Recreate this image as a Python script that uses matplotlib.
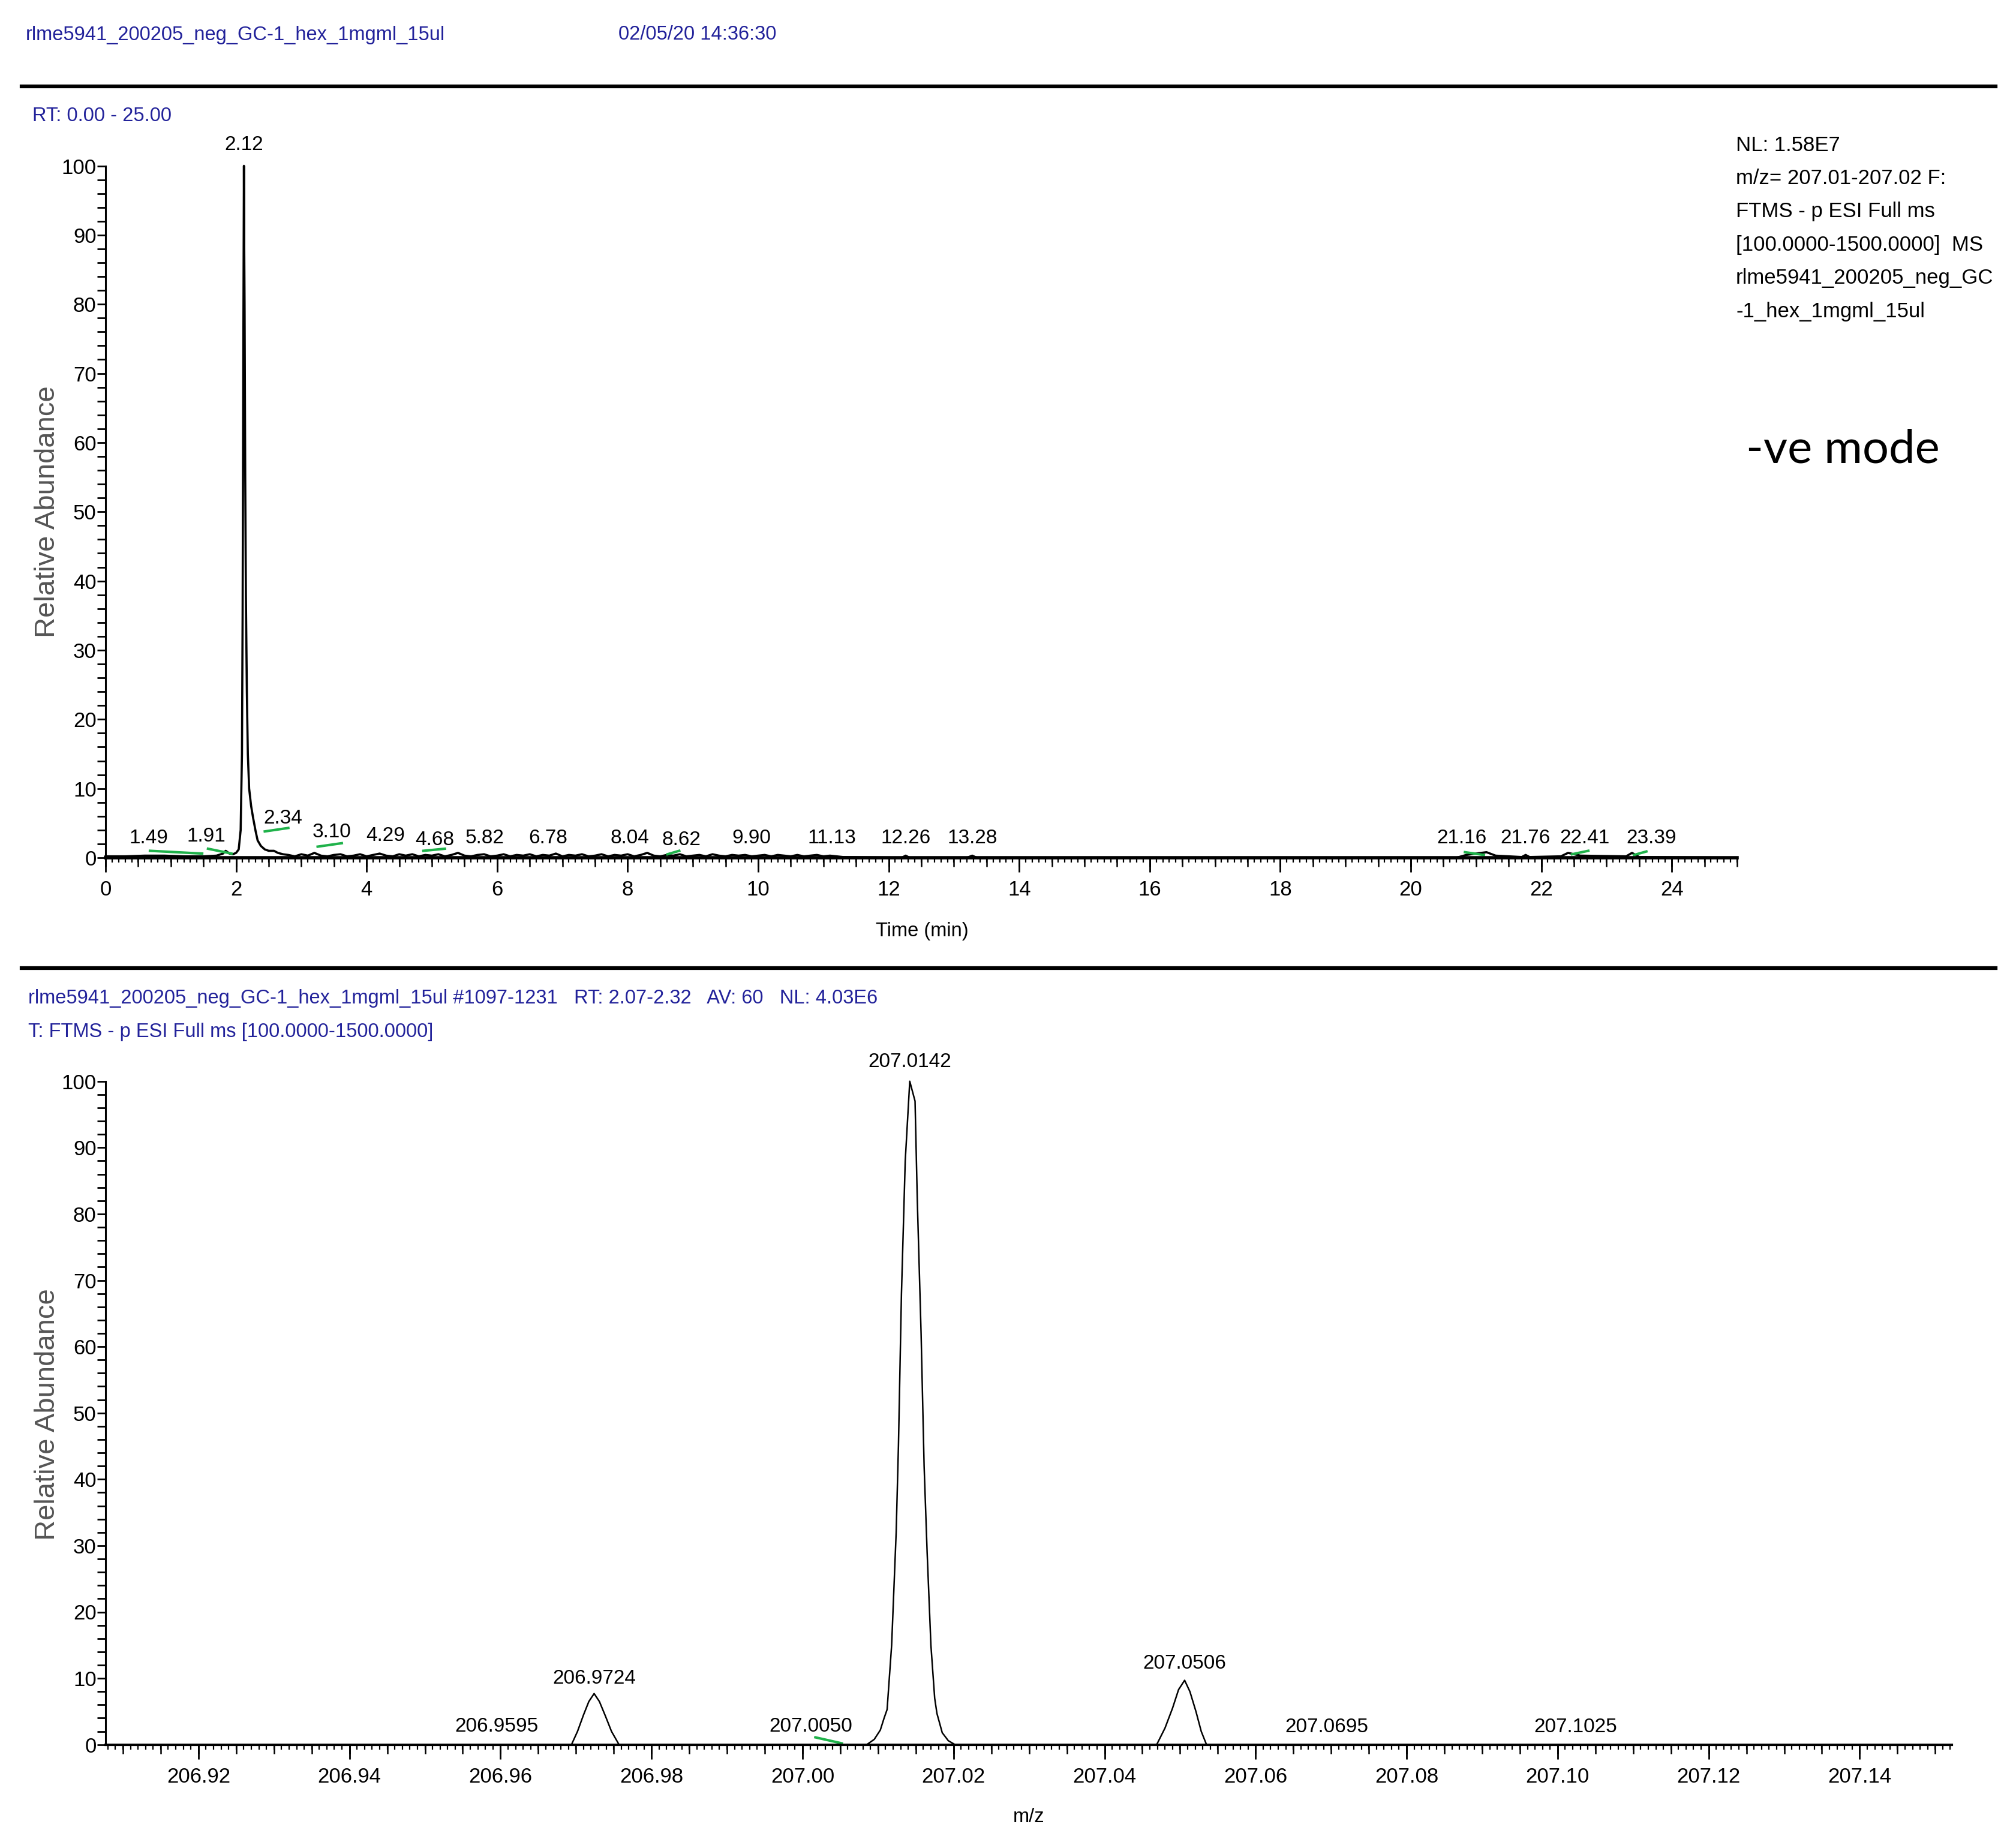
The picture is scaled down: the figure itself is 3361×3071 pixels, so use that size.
import numpy as np
import matplotlib.pyplot as plt
from matplotlib.ticker import MultipleLocator, FormatStrFormatter, NullFormatter
from matplotlib.lines import Line2D

# figure size in pixels (dpi 100)
W, H = 3361, 3071
SANS = ['Liberation Sans', 'DejaVu Sans']
NAVY = '#22229a'
GREEN = '#1fb24a'

# ---- chromatogram (top) ----
peak_rt = [0.00, 0.30, 0.60, 0.90, 1.20, 1.50, 1.70, 1.80, 1.84, 1.90, 1.95, 2.00,
           2.04, 2.07, 2.09, 2.10, 2.11, 2.12, 2.125, 2.13, 2.14, 2.15, 2.165, 2.18,
           2.20, 2.23, 2.26, 2.30, 2.33, 2.38, 2.44, 2.50, 2.58, 2.64, 2.72]
peak_ab = [0.2, 0.2, 0.3, 0.3, 0.2, 0.2, 0.3, 0.6, 1.0, 0.6, 0.5, 0.7,
           1.2, 4.0, 15.0, 35.0, 70.0, 100.0, 88.0, 80.0, 55.0, 38.0, 24.0, 15.0,
           10.0, 7.5, 5.8, 3.8, 2.5, 1.7, 1.2, 1.0, 1.0, 0.7, 0.5]
# baseline noise 2.8 - 11.2 min, one value every 0.1 min
noise_start, noise_step = 2.8, 0.1
noise_ab = [0.4, 0.2, 0.5, 0.3, 0.7, 0.3, 0.2, 0.4, 0.5, 0.2,
            0.3, 0.5, 0.2, 0.4, 0.6, 0.3, 0.2, 0.5, 0.3, 0.5,
            0.2, 0.4, 0.3, 0.5, 0.2, 0.4, 0.7, 0.3, 0.2, 0.4,
            0.5, 0.2, 0.3, 0.5, 0.2, 0.4, 0.3, 0.5, 0.2, 0.4,
            0.3, 0.6, 0.2, 0.4, 0.3, 0.5, 0.2, 0.3, 0.5, 0.2,
            0.4, 0.3, 0.5, 0.2, 0.4, 0.7, 0.3, 0.2, 0.4, 0.3,
            0.5, 0.2, 0.3, 0.4, 0.2, 0.5, 0.3, 0.2, 0.4, 0.3,
            0.4, 0.2, 0.3, 0.4, 0.2, 0.4, 0.3, 0.2, 0.4, 0.2,
            0.3, 0.4, 0.2, 0.3, 0.2]
tail_rt = [11.3, 12.2, 12.26, 12.32, 13.2, 13.28, 13.35, 20.7, 20.85, 21.0, 21.16,
           21.3, 21.7, 21.76, 21.82, 22.3, 22.41, 22.6, 23.3, 23.39, 23.5, 25.0]
tail_ab = [0.1, 0.0, 0.3, 0.0, 0.0, 0.3, 0.0, 0.0, 0.4, 0.6, 0.8,
           0.3, 0.1, 0.4, 0.1, 0.2, 0.7, 0.3, 0.2, 0.7, 0.1, 0.0]

rt_labels = ['1.49', '1.91', '2.12', '2.34', '3.10', '4.29', '4.68', '5.82', '6.78', '8.04',
             '8.62', '9.90', '11.13', '12.26', '13.28', '21.16', '21.76', '22.41', '23.39']
rt_label_x = [0.66, 1.54, 2.12, 2.72, 3.47, 4.29, 5.04, 5.81, 6.78, 8.03,
              8.82, 9.90, 11.13, 12.26, 13.28, 20.78, 21.76, 22.67, 23.69]
rt_label_y = [2.8, 3.1, 103.0, 5.7, 3.7, 3.2, 2.6, 2.8, 2.8, 2.8,
              2.6, 2.8, 2.8, 2.8, 2.8, 2.8, 2.8, 2.8, 2.8]
# integration marks: start, end, height at start, height at end
rt_mark_t0 = [0.68, 1.57, 2.44, 3.25, 4.87, 8.61, 20.83, 22.47, 23.42]
rt_mark_t1 = [1.48, 1.93, 2.80, 3.62, 5.20, 8.79, 21.12, 22.72, 23.61]
rt_mark_y0 = [1.0, 1.3, 3.8, 1.6, 1.0, 0.5, 0.8, 0.5, 0.4]
rt_mark_y1 = [0.6, 0.6, 4.3, 2.1, 1.3, 1.0, 0.4, 1.0, 0.9]

# ---- mass spectrum (bottom) ----
mz = [206.9077, 206.9694, 206.9702, 206.9710, 206.9717, 206.9724, 206.9731, 206.9739,
      206.9747, 206.9757, 207.0085, 207.0095, 207.0103, 207.0108, 207.0112, 207.0118,
      207.0124, 207.0127, 207.0131, 207.0136, 207.0142, 207.0149, 207.0152, 207.0157,
      207.0161, 207.0165, 207.0170, 207.0175, 207.0178, 207.0185, 207.0193, 207.0202,
      207.0469, 207.0480, 207.0490, 207.0498, 207.0506, 207.0513, 207.0521, 207.0528,
      207.0535, 207.1522]
intensity = [0.0, 0.0, 2.0, 4.5, 6.5, 7.7, 6.5, 4.3,
             2.0, 0.0, 0.0, 0.8, 2.2, 4.0, 5.3, 15.0,
             32.0, 45.0, 68.0, 88.0, 100.0, 97.0, 82.0, 62.0,
             42.0, 29.0, 15.0, 7.0, 4.7, 1.8, 0.6, 0.0,
             0.0, 2.5, 5.5, 8.3, 9.7, 8.0, 5.0, 2.0,
             0.0, 0.0]
mz_labels = ['206.9595', '206.9724', '207.0050', '207.0142', '207.0506', '207.0695', '207.1025']
mz_label_x = [206.9595, 206.9724, 207.0011, 207.0142, 207.0506, 207.0694, 207.1024]
mz_label_y = [2.7, 10.0, 2.7, 102.9, 12.2, 2.6, 2.6]
mz_mark_x = [207.0017, 207.0052]
mz_mark_y = [1.1, 0.2]

header_name = 'rlme5941_200205_neg_GC-1_hex_1mgml_15ul'
header_date = '02/05/20 14:36:30'
nl_block = ['NL: 1.58E7', 'm/z= 207.01-207.02 F:', 'FTMS - p ESI Full ms',
            '[100.0000-1500.0000]  MS', 'rlme5941_200205_neg_GC', '-1_hex_1mgml_15ul']
spec_header = ('rlme5941_200205_neg_GC-1_hex_1mgml_15ul #1097-1231   RT: 2.07-2.32   '
               'AV: 60   NL: 4.03E6')
spec_filter = 'T: FTMS - p ESI Full ms [100.0000-1500.0000]'

plt.rcParams['font.family'] = SANS
FS_HEAD = 23.5
FS_TICK = 25
FS_PEAK = 24
FS_NL = 25


def fx(px):
    return px / W


def fy(py):
    return 1 - py / H


def rect(left, top, right, bottom):
    return [fx(left), fy(bottom), (right - left) / W, (bottom - top) / H]


def style_axes(ax, major, medium, minor, fmt, xspine):
    for s in ['top', 'right']:
        ax.spines[s].set_visible(False)
    ax.spines['left'].set_linewidth(2.2)
    ax.spines['bottom'].set_linewidth(xspine)
    ax.set_ylim(0, 100)
    ax.yaxis.set_major_locator(MultipleLocator(10))
    ax.yaxis.set_minor_locator(MultipleLocator(2))
    ax.xaxis.set_major_locator(MultipleLocator(major))
    ax.xaxis.set_minor_locator(MultipleLocator(minor))
    ax.xaxis.set_major_formatter(FormatStrFormatter(fmt))
    ax.tick_params(axis='y', which='both', length=10, width=2.0, pad=1, labelsize=FS_TICK)
    ax.tick_params(axis='x', which='major', length=17, width=2.0, pad=10, labelsize=FS_TICK)
    ax.tick_params(axis='x', which='minor', length=6, width=1.6)
    sec = ax.secondary_xaxis('bottom')
    sec.xaxis.set_major_locator(MultipleLocator(medium))
    sec.xaxis.set_major_formatter(NullFormatter())
    sec.tick_params(length=11, width=1.8)
    sec.spines['bottom'].set_visible(False)


fig = plt.figure(figsize=(W / 100, H / 100), dpi=100)

# header
fig.text(fx(43), fy(58), header_name, color=NAVY, fontsize=FS_HEAD, va='center')
fig.text(fx(1031), fy(58), header_date, color=NAVY, fontsize=FS_HEAD, va='center')
for yy in [143.6, 1614]:
    fig.add_artist(Line2D([fx(36), fx(3327)], [fy(yy), fy(yy)], color='black', lw=4.5))
fig.text(fx(54), fy(193), 'RT: 0.00 - 25.00', color=NAVY, fontsize=FS_HEAD, va='center')

# ---- top: chromatogram ----
ax1 = fig.add_axes(rect(176, 276.5, 2896, 1430))
noise_rt = noise_start + noise_step * np.arange(len(noise_ab))
rt_all = np.concatenate([peak_rt, noise_rt, tail_rt])
ab_all = np.concatenate([peak_ab, noise_ab, tail_ab])
ax1.plot(rt_all, ab_all, color='black', lw=2.6, solid_joinstyle='round', clip_on=False)
for t0, t1, y0, y1 in zip(rt_mark_t0, rt_mark_t1, rt_mark_y0, rt_mark_y1):
    ax1.plot([t0, t1], [y0, y1], color=GREEN, lw=3.0)
for lab, x, y in zip(rt_labels, rt_label_x, rt_label_y):
    ax1.text(x, y, lab, ha='center', va='center', fontsize=FS_PEAK, clip_on=False)
ax1.set_xlim(0, 25)
style_axes(ax1, 2, 0.5, 0.1, '%d', 4.0)
fig.text(fx(1537), fy(1552), 'Time (min)', fontsize=FS_HEAD, ha='center', va='center')
fig.text(fx(79), fy(853), 'Relative Abundance', fontsize=34, rotation=90,
         ha='center', va='center', color='#555555')

for i, line in enumerate(nl_block):
    fig.text(fx(2894), fy(242 + 55.4 * i), line, fontsize=FS_NL, va='center')
fig.text(fx(2911), fy(772), '-ve mode', fontsize=56, va='baseline',
         family=['Lato', 'DejaVu Sans'])

# ---- bottom: spectrum ----
fig.text(fx(47), fy(1665), spec_header, color=NAVY, fontsize=FS_HEAD, va='center')
fig.text(fx(47), fy(1721), spec_filter, color=NAVY, fontsize=FS_HEAD, va='center')
ax2 = fig.add_axes(rect(176, 1802.7, 3254, 2908.7))
ax2.plot(mz, intensity, color='black', lw=1.8, clip_on=False)
ax2.plot(mz_mark_x, mz_mark_y, color=GREEN, lw=3.0)
for lab, x, y in zip(mz_labels, mz_label_x, mz_label_y):
    ax2.text(x, y, lab, ha='center', va='center', fontsize=FS_PEAK, clip_on=False)
ax2.set_xlim(206.9077, 207.1522)
style_axes(ax2, 0.02, 0.005, 0.001, '%.2f', 3.0)
fig.text(fx(1715), fy(3029), 'm/z', fontsize=FS_HEAD, ha='center', va='center')
fig.text(fx(79), fy(2358), 'Relative Abundance', fontsize=34, rotation=90,
         ha='center', va='center', color='#555555')

fig.savefig('out.png', dpi=100)
